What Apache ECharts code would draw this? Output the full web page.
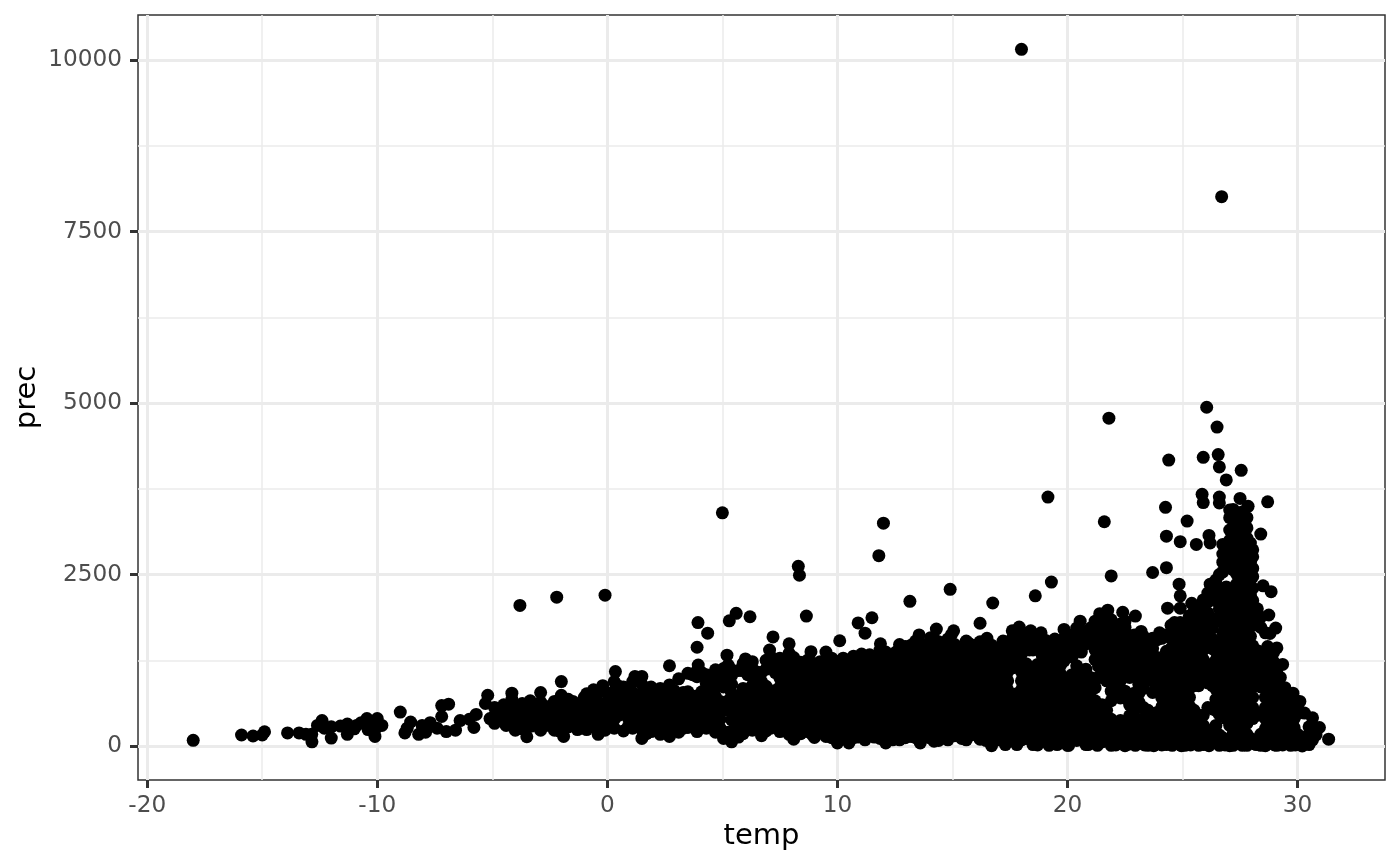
<!DOCTYPE html>
<html><head><meta charset="utf-8">
<style>html,body{margin:0;padding:0;background:#fff}#c{width:1400px;height:865px}</style>
<script src="https://cdn.jsdelivr.net/npm/echarts@6/dist/echarts.min.js"></script>
</head><body><div id="c"></div>
<script>
const xTicks = [-20,-10,0,10,20,30];
const xMinor = [-15,-5,5,15,25];
const yTicks = [0,2500,5000,7500,10000];
const yMinor = [1250,3750,6250,8750];

// isolated points, [temp, prec]
const outliers = [[18,10160],[26.7,8010],[26.05,4940],[21.8,4780],[26.5,4650],[26.55,4250],[25.9,4210],[24.4,4170],[26.6,4070],[27.55,4020],[26.9,3880],[25.85,3670],[19.15,3630],[26.6,3630],[27.5,3610],[25.9,3550],[26.6,3545],[28.7,3560],[27.85,3495],[24.26,3480],[5,3400],[21.6,3270],[25.2,3280],[12,3250],[24.3,3060],[24.9,2980],[25.6,2940],[28.4,3090],[26.15,3070],[26.2,2960],[11.8,2775],[8.3,2620],[24.3,2600],[23.7,2530],[8.35,2490],[21.9,2480],[19.3,2390],[14.9,2285],[18.6,2190],[-0.1,2200],[-2.2,2170],[16.75,2085],[13.15,2110],[-3.8,2050],[5.6,1935],[8.65,1895],[6.2,1885],[11.5,1870],[5.3,1825],[3.94,1800],[10.9,1795],[16.2,1790],[11.2,1645],[4.36,1645],[3.9,1440],[7.2,1590],[10.1,1535],[14.3,1705],[15.05,1680],[2.7,1170],[0.35,1085],[1.2,1015],[1.5,1015],[28.5,2335],[28.85,2250],[28.75,1910],[29.05,1720],[29.1,1430],[29.35,1190],[29,1190],[28.8,1640],[28.7,1450],[24.35,2010],[24.85,2360],[24.9,2190],[24.9,2010],[25.4,2080],[25.9,2130],[26.2,2360],[26.5,2270],[22.95,1895],[22.4,1950],[21.75,1980],[21.4,1930],[20.55,1820],[22.5,1730],[23.2,1670],[19.85,1700],[17.9,1735],[18.4,1680],[18.85,1650],[24.65,1800],[25.3,1900],[24,1650],[13.55,1620],[14.05,1580],[16.5,1570],[15.7,1500],[11.87,1490],[12.7,1480],[7.05,1400],[7.9,1490],[8.85,1375],[9.5,1370],[5.2,1325],[6,1270],[3.95,1180],[31.35,100],[30.95,270],[30.65,410],[30.3,480],[30.1,650],[29.8,770],[29.45,850]];

// sparse cold tail, [temp, prec]
const coldTail = [[-18,83],[-15.9,160],[-15.4,146],[-14.9,208],[-15,160],[-13.9,190],[-13.4,190],[-13.1,170],[-12.84,60],[-12.85,170],[-12.6,300],[-12.4,370],[-12.3,260],[-12,115],[-12,280],[-11.6,290],[-11.3,170],[-11.3,320],[-11,250],[-10.9,300],[-10.7,340],[-10.45,400],[-10.4,240],[-10.2,310],[-10,400],[-10.1,140],[-10.1,240],[-9.8,300],[-9,495],[-8.8,190],[-8.55,350],[-8.7,260],[-8.2,170],[-8.05,300],[-7.9,200],[-7.7,340],[-7.4,260],[-7.2,590],[-6.9,610],[-7.2,430],[-7,210],[-6.6,230],[-6.4,370],[-6,390],[-5.8,270],[-5.7,460],[-5.3,620],[-5.2,740],[-5.1,400],[-4.7,520],[-4.15,770],[-4.15,680],[-4.4,300],[-4,230],[-3.5,135],[-3.35,660],[-2.9,780],[-2.6,560],[-2,940],[-2,740],[-1.9,140],[-2.3,230],[-1.5,650],[-1.3,240],[-0.6,820],[-0.2,880],[-0.4,170],[-1,710]];

// dense cloud, read column by column: [temp, prec, prec, ...]
const coolColumns = [[-4.9,330,440,560],[-4.5,400,510,600],[-4.1,310,450,580],[-3.7,250,370,500,620],[-3.3,290,420,560],[-2.9,230,360,490,640],[-2.5,300,430,580],[-2.1,220,340,470,610],[-1.7,280,410,550,680],[-1.3,320,450,600],[-0.9,240,370,510,650,760],[-0.5,260,400,540,700],[-0.1,230,350,480,620,790],[0.3,260,390,520,650,800,940],[0.7,220,470,600,730,860],[1.1,260,390,520,650,780,940],[1.5,110,240,370,500,630,760,900],[1.9,210,340,470,600,730,860],[2.3,170,300,430,560,690,840],[2.7,140,360,490,620,750,890],[3.1,200,330,460,590,720,980],[3.5,270,400,530,660,790,1060],[3.9,210,340,470,600,730,1010,1100],[4.3,260,390,520,650,780,910,1040],[4.7,200,330,460,590,720,850,980,1110],[5.05,110,600,860,990,1130],[5.4,60,200,380,510,640,770,900,1030,1110],[5.9,180,320,450,580,710,840,1100,1200],[6.3,230,360,490,620,750,880,1010,1130,1230],[6.7,150,290,420,550,680,810,940,1070],[7.1,260,390,520,650,780,1150,1300],[7.5,210,340,470,600,730,860,990,1120,1280],[7.9,170,280,410,540,670,800,930,1060,1190,1350]];

const coolFill = [[-4.3,370,490],[-3.9,340,480],[-3.5,300,440,540],[-3.1,360,500,600],[-2.7,300,430,540],[-2.3,360,490,650],[-1.9,300,430,560],[-1.5,370,500],[-1.1,300,420,560],[-0.7,330,460,600,720],[-0.3,300,430,580],[0.1,320,460,580,720],[0.5,450,590,720,870],[0.9,280,410,540,670,800],[1.3,320,450,580,710],[1.7,180,300,430,560,690,830],[2.1,270,400,530,660,790],[2.5,230,360,490,620,760],[2.9,290,420,550,680,810],[3.3,260,390,520,650,780],[3.7,340,470,600,730,1040],[4.1,280,400,530,660,790,1070],[4.5,330,460,590,720,850,980],[4.9,260,390,520,650,910,1040],[5.25,200,520,660,920,1060,1180],[5.7,130,290,450,580,710,1100],[6.1,250,390,520,650,780,1040,1170],[6.5,300,430,560,690,820,950,1080],[6.9,220,350,480,610,740,870,1120,1250],[7.3,290,420,550,680,810,1070,1220],[7.7,240,370,500,630,760,890,1020,1150]];

const midColumns = [[8.1,100,250,380,510,640,770,900,1030,1160,1290],[8.7,210,340,470,600,730,860,990,1120,1250],[9,125,260,390,520,650,780,910,1040,1170],[9.5,140,280,410,540,670,800,930,1060,1190],[10,45,190,320,450,580,710,840,970,1100,1230],[10.5,45,210,340,470,600,730,860,990,1120,1250],[10.9,130,260,390,520,650,780,910,1040,1170,1290],[11.2,90,200,330,460,590,720,850,980,1110,1240],[11.6,130,270,400,530,660,790,920,1050,1180,1300],[12.1,45,190,320,450,580,710,840,970,1100,1240,1370],[12.4,90,260,390,520,650,780,910,1040,1170,1310],[12.7,90,200,330,460,590,720,850,980,1110,1240,1400],[13.2,140,270,400,530,660,790,920,1050,1180,1320,1470],[13.6,45,210,340,470,600,730,860,990,1120,1250,1380,1500],[14,120,270,400,530,660,790,920,1050,1180,1310,1440],[14.4,80,200,330,460,590,720,850,980,1110,1240,1370,1520],[14.8,90,260,390,520,650,780,910,1040,1170,1300,1430,1560],[15.1,150,300,430,560,690,820,950,1080,1210,1340,1480],[15.4,110,240,370,500,630,760,890,1020,1150,1280,1410],[15.8,160,300,430,560,690,820,950,1080,1210,1340,1470],[16.2,100,240,370,500,630,760,890,1020,1150,1280,1410,1520],[16.7,5,150,300,430,560,690,820,950,1080,1210,1340,1470],[17,90,230,370,500,630,760,890,1020,1150,1280,1420],[17.4,160,300,430,560,690,820,950,1080,1210,1340,1500],[17.8,20,230,370,500,630,760,1150,1280,1410,1600],[18.2,110,290,420,550,680,810,940,1070,1200,1490,1640],[18.5,20,200,350,480,610,740,870,1000,1130,1400,1540],[18.9,110,280,410,540,670,800,930,1060,1190,1320,1450,1560],[19.2,10,190,340,470,600,730,860,990,1120,1250,1380,1500],[19.7,90,260,400,530,660,790,920,1050,1180,1310,1440],[20,10,170,330,460,590,720,850,980,1370,1520,1620]];

const midFill = [[8.4,180,310,440,570,700,830,960,1090,1220],[8.9,170,300,430,560,690,820,950,1080,1210],[9.25,200,330,460,590,720,850,980,1110,1230],[9.75,120,250,380,510,640,770,900,1030,1160,1280],[10.25,130,260,390,520,650,780,910,1040,1170,1280],[10.7,120,270,400,530,660,790,920,1050,1180,1310],[11.05,190,320,450,580,710,840,970,1100,1230,1340],[11.4,170,300,430,560,690,820,950,1080,1210,1330],[11.85,110,250,380,510,640,770,900,1030,1160,1290,1400],[12.25,130,260,390,520,650,780,910,1040,1170,1300],[12.55,190,320,450,580,710,840,970,1100,1230,1370],[12.95,120,270,400,530,660,790,920,1050,1180,1320,1450],[13.4,120,210,340,470,600,730,860,990,1120,1250,1390,1530],[13.8,140,270,400,530,660,790,920,1050,1180,1310,1470],[14.2,70,200,330,460,590,720,850,980,1110,1240,1390,1560],[14.6,140,270,400,530,660,790,920,1050,1180,1310,1450],[14.95,180,320,450,580,710,840,970,1100,1230,1360,1500,1620],[15.25,180,310,440,570,700,830,960,1090,1220,1350],[15.6,90,230,360,490,620,750,880,1010,1140,1270,1400,1530],[16,170,300,430,560,690,820,950,1080,1210,1340,1470],[16.45,80,220,350,480,610,740,870,1000,1130,1260,1390,1530],[16.85,90,230,360,490,620,750,880,1010,1140,1270,1400],[17.2,100,240,370,500,630,760,890,1020,1150,1280,1420,1530],[17.6,90,230,360,490,620,750,1140,1270,1400,1570,1680],[18,90,170,300,430,560,690,820,950,1080,1210,1340,1500,1650],[18.35,170,350,480,610,740,870,1000,1130,1400,1530,1620],[18.7,110,270,410,540,670,800,930,1060,1190,1460,1600],[19.05,90,230,390,520,650,780,910,1040,1170,1300,1430,1540],[19.45,110,270,400,530,660,790,920,1050,1180,1310,1440,1560],[19.85,120,180,330,460,590,720,850,980,1240,1380,1570],[20.2,100,260,390,520,650,780,910,1040,1300,1450,1620]];

const warmColumns = [[20.4,80,250,400,530,660,790,920,1050,1170,1430,1560,1720],[20.8,20,170,320,460,590,720,850,980,1120,1490,1620],[21.2,110,250,390,530,660,850,980,1260,1400,1500,1680,1820],[21.5,60,190,320,450,600,1000,1130,1260,1420,1600,1780],[21.9,10,130,260,390,660,800,920,1050,1180,1310,1480,1620,1840],[22.3,100,240,370,700,820,950,1120,1270,1420,1590,1780],[22.7,30,170,310,440,600,720,1000,1160,1300,1440,1550],[23.1,70,210,350,640,770,900,1030,1160,1300,1430],[23.5,10,130,270,400,520,960,1090,1220,1350,1490],[23.9,80,220,350,490,880,1030,1160,1290,1550],[24.3,20,150,290,420,550,700,830,960,1090,1220,1380,1620],[24.7,80,230,360,490,620,750,880,1010,1140,1270,1400,1540,1700],[25.1,10,160,300,510,640,770,900,1030,1160,1290,1420,1600,1780],[25.5,90,240,380,520,880,1010,1140,1270,1400,1560,1800,1960],[25.9,20,160,300,450,980,1130,1260,1400,1530,1680,1850,2010],[26.3,90,230,540,880,1030,1160,1420,1560,1720,1860,2180],[26.6,10,160,460,620,770,920,1060,1200,1340,1480,1850,2000,2150,2300,2500],[26.9,60,400,520,680,830,980,1130,1280,1430,1570,1720,1870,2020,2170,2320,2600,2750],[27.2,10,180,330,470,620,770,920,1070,1220,1370,1520,1670,1820,1970,2120,2270,2570,2720,2870,3020,3170,3300,3450],[27.5,90,260,410,560,710,860,1010,1160,1310,1460,1610,1760,1910,2060,2210,2360,2510,2660,2810,2960,3110,3260,3400],[27.8,10,170,330,480,630,780,930,1080,1230,1380,1530,1680,1830,1980,2130,2280,2430,2580,2730,2880,3030,3180,3330],[28.05,90,400,560,710,860,1010,1160,1310,1460,1760,1940,2120,2300,2470,2590,2760,2860],[28.4,10,170,460,860,1000,1120,1370,1730,1880],[28.8,90,240,400,550,700,860,1010,1160,1310],[29.1,10,180,330,490,640,790,940,1060],[29.4,90,250,410,560,700],[29.7,10,170,300,470,620],[30,70,170,470,570],[30.2,0,130],[30.5,20,170,280],[30.8,160,240]];

const warmFill = [[20.6,130,250,390,520,650,780,910,1040,1370,1520,1680],[21,110,260,400,530,660,790,1000,1560,1720],[21.35,190,320,460,590,1000,1160,1300,1450,1620,1790],[21.7,100,250,390,520,950,1040,1170,1300,1450,1560,1700,1860],[22.1,70,200,330,720,850,980,1110,1240,1370,1540,1700],[22.5,170,310,700,800,1040,1420,1560,1660,1820],[22.9,100,240,370,510,640,770,1080,1200,1340,1480,1620],[23.3,140,270,400,560,840,970,1100,1230,1360,1500,1600],[23.7,60,200,330,470,780,950,1030,1160,1290,1420,1570],[24.1,150,290,420,570,700,830,960,1090,1220,1570],[24.5,90,220,350,490,620,770,900,1030,1160,1290,1420,1570,1760],[24.9,150,300,430,560,690,820,950,1080,1210,1340,1470,1640,1800],[25.3,90,230,370,580,710,840,970,1100,1230,1360,1500,1700,1860],[25.7,160,310,450,880,1010,1140,1270,1400,1550,1720,1880,2040],[26.1,90,230,560,920,1080,1190,1470,1610,1780,1940,2100,2230],[26.45,160,300,520,680,830,970,1110,1250,1380,1520,1830,2120,2300,2420],[26.75,120,440,590,750,900,1050,1200,1350,1500,1650,1800,1960,2100,2250,2540,2680,2800,2940],[27.05,90,300,450,600,750,900,1050,1200,1350,1500,1650,1800,1950,2100,2250,2600,2700,2850,3000,3150,3330,3440],[27.35,130,260,410,560,710,860,1010,1160,1310,1460,1610,1760,1910,2060,2210,2360,2510,2660,2810,2960,3110,3260,3380],[27.65,90,260,400,550,700,850,1000,1150,1300,1450,1600,1750,1900,2050,2200,2350,2500,2650,2800,2950,3100,3250,3420],[27.95,110,450,550,700,850,1000,1150,1300,1450,1600,1750,1900,2050,2200,2350,2500,2680,2960],[28.25,450,910,1090,1240,1390,1800,2000],[28.6,90,250,400,560,710,860,1010,1160,1300,1650],[28.95,100,310,470,620,770,920,1070,1230,1360],[29.25,100,270,420,570,720,870,1000],[29.55,100,340,490,640,780],[29.85,100,270,400,540,690],[30.65,90,300]];

const bottomEdge = [[17.3,20],[18.7,15],[19.55,20],[20.05,10],[20.9,20],[21.3,10],[22.1,15],[22.5,5],[22.95,10],[23.35,15],[23.75,5],[24.1,15],[24.55,10],[24.95,5],[25.35,15],[25.7,10],[26.15,5],[26.85,15],[27.05,5],[27.6,10],[28.2,20],[28.6,5],[29,15],[29.35,15],[29.9,15],[30.15,20]];

const flat = cols => cols.flatMap(c => c.slice(1).map(p => [c[0], p]));
const points = outliers.concat(coldTail, bottomEdge, flat(coolColumns), flat(coolFill), flat(midColumns), flat(midFill), flat(warmColumns), flat(warmFill));

const grey = '#4d4d4d';
const xMin = -20.4, xMax = 33.8, yMin = -496, yMax = 10660;
const plain = v => String(v);
const baseLabel = {color: grey, fontFamily: 'DejaVu Sans', fontSize: 23.2, formatter: plain};
const titleStyle = {color: '#000', fontFamily: 'DejaVu Sans', fontSize: 29};
const chart = echarts.init(document.getElementById('c'), null, {renderer: 'canvas'});
chart.setOption({
  animation: false,
  backgroundColor: '#fff',
  grid: {left: 138, right: 15, top: 15, bottom: 85, show: true, outerBoundsMode: 'none', borderColor: '#333', borderWidth: 1.5, backgroundColor: 'transparent'},
  xAxis: [
    {type: 'value', min: xMin, max: xMax, name: 'temp', nameLocation: 'middle', nameGap: 42, nameMoveOverlap: false, nameTextStyle: titleStyle,
     axisLine: {show: false, onZero: false},
     axisTick: {show: true, length: 8, customValues: xTicks, lineStyle: {color: '#333', width: 3}},
     axisLabel: Object.assign({customValues: xTicks, margin: 14}, baseLabel),
     splitLine: {show: true, lineStyle: {color: '#ebebeb', width: 3}}},
    {type: 'value', min: xMin, max: xMax, position: 'bottom', axisLine: {show: false, onZero: false},
     axisTick: {show: false, customValues: xMinor}, axisLabel: {show: false, customValues: xMinor},
     splitLine: {show: true, lineStyle: {color: '#ebebeb', width: 1.5}}}
  ],
  yAxis: [
    {type: 'value', min: yMin, max: yMax, name: 'prec', nameLocation: 'middle', nameGap: 96, nameMoveOverlap: false, nameTextStyle: titleStyle,
     axisLine: {show: false, onZero: false},
     axisTick: {show: true, length: 8, customValues: yTicks, lineStyle: {color: '#333', width: 3}},
     axisLabel: Object.assign({customValues: yTicks, margin: 16, padding: [4,0,0,0]}, baseLabel),
     splitLine: {show: true, lineStyle: {color: '#ebebeb', width: 3}}},
    {type: 'value', min: yMin, max: yMax, position: 'left', axisLine: {show: false, onZero: false},
     axisTick: {show: false, customValues: yMinor}, axisLabel: {show: false, customValues: yMinor},
     splitLine: {show: true, lineStyle: {color: '#ebebeb', width: 1.5}}}
  ],
  series: [{type: 'scatter', data: points, symbol: 'circle', symbolSize: 13,
    itemStyle: {color: '#000', opacity: 1}, silent: true, large: false}]
});
</script></body></html>
